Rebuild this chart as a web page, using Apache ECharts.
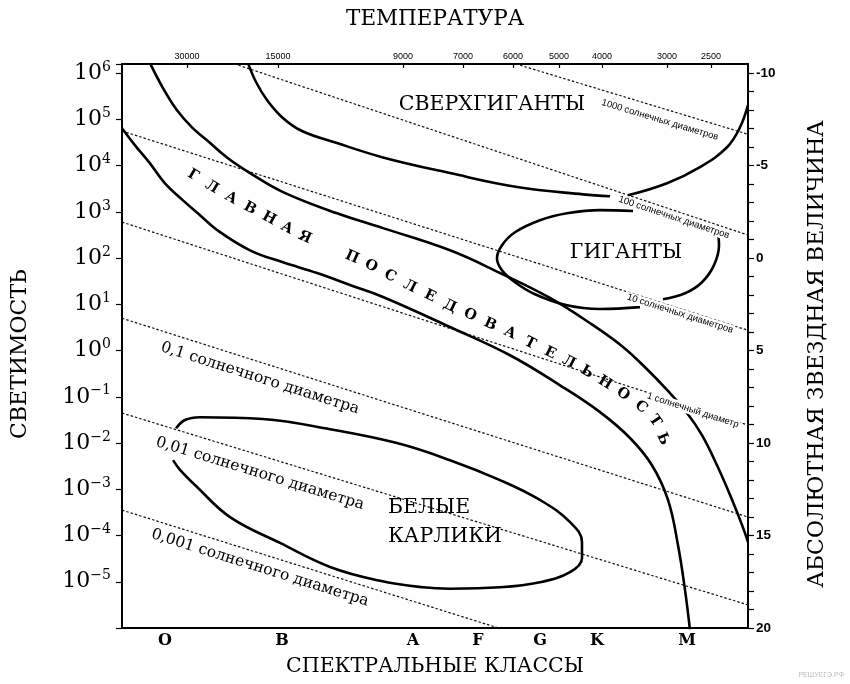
<!DOCTYPE html>
<html><head><meta charset="utf-8">
<script src="https://cdn.jsdelivr.net/npm/echarts@6/dist/echarts.min.js"></script>
<style>html,body{margin:0;padding:0;background:#fff}#c{width:850px;height:684px}</style>
</head><body><div id="c"></div>
<script>
// ---------- DATA ----------
// x: position along the spectral-class axis (0..1000), y: log10 of luminosity (solar units)
const spectralClasses = ['O','B','A','F','G','K','M'];
const spectralPos = [68.7, 255.6, 464.9, 568.7, 667.7, 758.8, 902.6];
const temperatureLabels = ['30000','15000','9000','7000','6000','5000','4000','3000','2500'];
const temperaturePos = [103.8, 249.2, 448.9, 544.7, 624.6, 698.1, 766.8, 870.6, 940.9];
const lumExponents = [-5,-4,-3,-2,-1,0,1,2,3,4,5,6];
const magTicks = [-10,-9,-8,-7,-6,-5,-4,-3,-2,-1,0,1,2,3,4,5,6,7,8,9,10,11,12,13,14,15,16,17,18,19,20];
const magLabels = [-10,-5,0,5,10,15,20];

const mainSeqUpper = [[44.7,6.22],[65.5,5.68],[87.9,5.20],[111.8,4.83],[135.8,4.55],[169.3,4.16],[204.5,3.84],[257.2,3.43],[343.5,2.97],[416.9,2.65],[524.0,2.17],[603.8,1.68],[683.7,1.14],[752.4,0.55],[800.3,0.08],[835.5,-0.36],[870.6,-0.85],[902.6,-1.35],[926.5,-1.83],[950.5,-2.48],[971.2,-3.12],[990.4,-3.77],[1000,-4.14]];
const mainSeqLower = [[0,4.81],[20.8,4.44],[44.7,4.05],[68.7,3.62],[97.4,3.25],[124.6,2.93],[151.8,2.61],[204.5,2.17],[257.2,1.91],[311.5,1.68],[364.2,1.42],[416.9,1.16],[524.0,0.51],[619.8,-0.10],[699.7,-0.75],[763.6,-1.33],[811.5,-1.89],[846.6,-2.48],[872.2,-3.23],[888.2,-4.21],[899.4,-5.18],[907.3,-6.04]];
const supergiantsLeft = [[201.3,6.22],[214.1,5.81],[231.6,5.42],[255.6,5.05],[287.5,4.75],[343.5,4.49],[416.9,4.18],[524.0,3.84],[631.0,3.54],[736.4,3.38],[779.6,3.34]];
const supergiantsRight = [[808.3,3.36],[870.6,3.62],[923.3,3.97],[966.5,4.40],[987.2,4.83],[1000,5.31]];
const giantsMain = [[816.3,3.02],[763.6,3.04],[710.9,2.97],[667.7,2.82],[627.8,2.56],[607.0,2.28],[599.0,2.00],[607.0,1.74],[627.8,1.48],[659.7,1.22],[710.9,0.98],[763.6,0.90],[827.5,0.94]];
const giantsRight = [[950.5,2.65],[953.7,2.28],[945.7,1.85],[926.5,1.48],[899.4,1.24],[864.2,1.11]];
const whiteDwarfs = [[86.3,-1.68],[100.6,-1.50],[124.6,-1.44],[225.2,-1.48],[332.3,-1.70],[439.3,-2.00],[524.0,-2.37],[603.8,-2.80],[667.7,-3.23],[715.7,-3.71],[734.8,-4.14],[734.8,-4.49],[715.7,-4.79],[667.7,-5.01],[603.8,-5.12],[524.0,-5.15],[480.8,-5.12],[412.1,-4.98],[332.3,-4.68],[252.4,-4.16],[172.5,-3.60],[119.8,-2.95],[92.7,-2.58],[81.5,-2.37]];

const radiusNames = ['1000 солнечных диаметров','100 солнечных диаметров','10 солнечных диаметров','1 солнечный диаметр','0,1 солнечного диаметра','0,01 солнечного диаметра','0,001 солнечного диаметра'];
const radiusLines = [
  [[587.9,6.37],[1000,4.68]],
  [[124.6,6.45],[1000,2.50]],
  [[0,4.75],[1000,0.44]],
  [[0,2.78],[1000,-1.61]],
  [[0,0.70],[1000,-3.60]],
  [[0,-1.35],[1000,-5.50]],
  [[0,-3.45],[1000,-7.69]]
];
const radiusLabelAnchors = [[859.4,4.99],[881.8,2.88],[891.4,0.80],[912.1,-1.29],[220.4,-0.60],[220.4,-2.66],[220.4,-4.70]];

const regionNames = ['СВЕРХГИГАНТЫ','ГИГАНТЫ','БЕЛЫЕ\nКАРЛИКИ'];
const regionAnchors = [[591.1,5.33],[805.1,2.11],[424.9,-3.71]];

const mainSeqLetters = ['Г','Л','А','В','Н','А','Я','П','О','С','Л','Е','Д','О','В','А','Т','Е','Л','Ь','Н','О','С','Т','Ь'];
const mainSeqLetterPos = [[113.4,3.79],[143.8,3.54],[174.1,3.30],[204.5,3.08],[234.8,2.86],[263.6,2.65],[292.3,2.45],[367.4,2.02],[397.8,1.83],[428.1,1.61],[460.1,1.39],[492.0,1.18],[524.0,0.96],[555.9,0.77],[587.9,0.57],[619.8,0.38],[651.8,0.16],[683.7,-0.05],[714.1,-0.25],[742.8,-0.46],[771.6,-0.70],[800.3,-0.94],[829.1,-1.22],[851.4,-1.52],[864.2,-1.91]];

// ---------- CHART ----------
const SERIF = '"DejaVu Serif","Liberation Serif",serif';
const SANS = '"Liberation Sans",Arial,sans-serif';
const NARROW = '"Liberation Sans Narrow","Liberation Sans",sans-serif';
const INK = '#000';

const chart = echarts.init(document.getElementById('c'));

function curve(id, data) {
  return {id, type:'line', data, smooth:0.4, symbol:'none', silent:true, z:3,
    lineStyle:{color:INK, width:2.6}, xAxisIndex:0, yAxisIndex:0, animation:false};
}
function lookup(vals, labels, v) {
  for (let i = 0; i < vals.length; i++) if (Math.abs(vals[i] - v) < 1e-6) return labels[i];
  return '';
}
function supLabel(v) {
  const e = v < 0 ? '−' + (-v) : String(v);
  return '{b|10}{s|' + e + '}';
}
const smallRadiusFont = {fontFamily:SANS, fontSize:9.5, backgroundColor:'#fff', padding:[0,1,0,1]};
const bigRadiusFont = {fontFamily:SERIF, fontSize:15.5};

const series = [];
radiusLines.forEach((ln, i) => series.push({id:'r'+i, type:'line', data:ln, symbol:'none', silent:true, z:2,
  lineStyle:{color:'#111', width:1.2, type:[2.5,2]}, animation:false}));
series.push(curve('msu', mainSeqUpper));
series.push(curve('msl', mainSeqLower));
series.push(curve('sgl', supergiantsLeft));
series.push(curve('sgr', supergiantsRight));
series.push(curve('gm', giantsMain));
series.push(curve('gr', giantsRight));
series.push(curve('wd', whiteDwarfs));

const textSeriesBase = {type:'scatter', symbolSize:0, silent:true, z:5, itemStyle:{opacity:1}};
series.push(Object.assign({id:'regions'}, textSeriesBase, {
  data: regionAnchors.map((p,i)=>({value:p, name:regionNames[i],
    label: i===2 ? {align:'left', lineHeight:29} : {}})),
  label:{show:true, position:'inside', formatter:'{b}', fontFamily:SERIF, fontSize:20.5, color:INK}}));

series.push(Object.assign({id:'rlabels'}, textSeriesBase, {
  data: radiusLabelAnchors.map((p,i)=>({value:p, name:radiusNames[i],
    label: i<4 ? smallRadiusFont : bigRadiusFont})),
  label:{show:true, position:'inside', formatter:'{b}', color:INK}}));

series.push(Object.assign({id:'letters'}, textSeriesBase, {
  data: mainSeqLetterPos.map((p,i)=>({value:p, name:mainSeqLetters[i]})),
  label:{show:true, position:'inside', formatter:'{b}', fontFamily:SERIF, fontWeight:'bold', fontSize:14.5, color:INK}}));

const option = {
  animation:false,
  backgroundColor:'#fff',
  grid:{left:122, right:102, top:64, bottom:56, containLabel:false},
  xAxis:[
    {type:'value', min:0, max:1000, position:'bottom',
     name:'СПЕКТРАЛЬНЫЕ КЛАССЫ', nameLocation:'middle', nameGap:28,
     nameTextStyle:{fontFamily:SERIF, fontSize:20.5, color:INK},
     axisLine:{show:true, onZero:false, lineStyle:{color:INK, width:2}}, axisTick:{show:false},
     splitLine:{show:false},
     axisLabel:{customValues:spectralPos, formatter:v=>lookup(spectralPos, spectralClasses, v),
       fontFamily:SERIF, fontWeight:'bold', fontSize:16, color:INK, margin:5}},
    {type:'value', min:0, max:1000, position:'top',
     name:'ТЕМПЕРАТУРА', nameLocation:'middle', nameGap:34,
     nameTextStyle:{fontFamily:SERIF, fontSize:21.5, color:INK},
     axisLine:{show:true, onZero:false, lineStyle:{color:INK, width:2}},
     axisTick:{show:true, inside:true, length:4, customValues:temperaturePos, lineStyle:{color:INK, width:1.2}},
     splitLine:{show:false},
     axisLabel:{customValues:temperaturePos, formatter:v=>lookup(temperaturePos, temperatureLabels, v),
       fontFamily:NARROW, fontSize:9, color:INK, margin:3}}
  ],
  yAxis:[
    {type:'value', min:-6, max:6.2, interval:1, position:'left',
     name:'СВЕТИМОСТЬ', nameLocation:'middle', nameGap:91, nameRotate:90,
     nameTextStyle:{fontFamily:SERIF, fontSize:22, color:INK, padding:[0,16,0,0]},
     axisLine:{show:true, onZero:false, lineStyle:{color:INK, width:2}},
     axisTick:{show:true, length:6, lineStyle:{color:INK, width:1.2}},
     splitLine:{show:false},
     axisLabel:{customValues:lumExponents, formatter:supLabel, margin:11,
       rich:{b:{fontFamily:SERIF, fontSize:22, color:INK, lineHeight:26},
             s:{fontFamily:SERIF, fontSize:14, color:INK, lineHeight:10, verticalAlign:'top'}}}},
    {type:'value', min:-10.5, max:20, inverse:true, position:'right',
     name:'АБСОЛЮТНАЯ ЗВЕЗДНАЯ ВЕЛИЧИНА', nameLocation:'middle', nameGap:58, nameRotate:90,
     nameTextStyle:{fontFamily:SERIF, fontSize:22, color:INK, padding:[0,16,0,0]},
     axisLine:{show:true, onZero:false, lineStyle:{color:INK, width:2}},
     axisTick:{show:true, length:6, customValues:magTicks, lineStyle:{color:INK, width:1.2}},
     splitLine:{show:false},
     axisLabel:{customValues:magLabels, fontFamily:SANS, fontWeight:'bold', fontSize:13.5, color:INK, margin:8}}
  ],
  graphic:[{type:'text', right:6, bottom:5, style:{text:'РЕШУЕГЭ.РФ', fontFamily:SANS, fontSize:7, fill:'#bbb'}}],
  series
};
chart.setOption(option);

// rotate texts along their guide lines, using the chart's own coordinate conversion
const toPx = p => chart.convertToPixel({xAxisIndex:0, yAxisIndex:0}, p);
function angleOf(a, b) {
  const pa = toPx(a), pb = toPx(b);
  return -Math.atan2(pb[1]-pa[1], pb[0]-pa[0]) * 180 / Math.PI;
}
const rData = radiusLabelAnchors.map((p,i)=>({value:p, name:radiusNames[i],
  label: Object.assign({}, i<4 ? smallRadiusFont : bigRadiusFont,
    {rotate: angleOf(radiusLines[i][0], radiusLines[i][1])})}));
const n = mainSeqLetterPos.length;
const lData = mainSeqLetterPos.map((p,i)=>{
  const a = mainSeqLetterPos[Math.max(0,i-1)], b = mainSeqLetterPos[Math.min(n-1,i+1)];
  return {value:p, name:mainSeqLetters[i], label:{rotate: angleOf(a,b)}};
});
chart.setOption({series:[{id:'rlabels', data:rData},{id:'letters', data:lData}]});
</script></body></html>
